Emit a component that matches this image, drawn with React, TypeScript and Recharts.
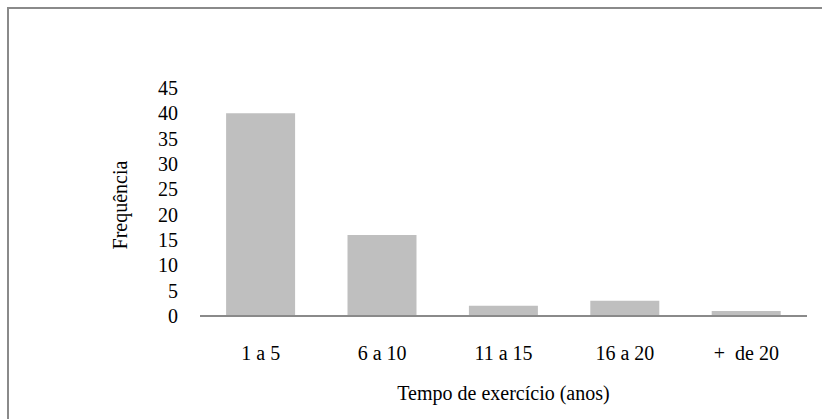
import React from 'react';
import { BarChart, Bar, XAxis, YAxis } from 'recharts';

const categories = ['1 a 5', '6 a 10', '11 a 15', '16 a 20', '+\u00a0 de 20'];
const frequencies = [40, 16, 2, 3, 1];
const yTicks = [0, 5, 10, 15, 20, 25, 30, 35, 40, 45];

const data = categories.map((c, i) => ({ name: c, value: frequencies[i] }));

const FONT = '"Liberation Serif", "Times New Roman", serif';

export default function App() {
  return (
    <div style={{ position: 'absolute', left: 0, top: 0, width: 822, height: 419, overflow: 'hidden', background: '#fff' }}>
      <div style={{ position: 'absolute', left: 7, top: 7, width: 840, height: 440, border: '2px solid #8a8a8a', boxSizing: 'border-box' }} />
      <div style={{ position: 'absolute', left: 0, top: 0 }}>
        <BarChart width={822} height={419} data={data} margin={{ top: 88, right: 15, bottom: 0, left: 120 }} barCategoryGap="21.5%">
          <XAxis
            dataKey="name"
            axisLine={{ stroke: '#8a8a8a', strokeWidth: 2 }}
            tickLine={false}
            tickSize={0}
            tickMargin={30}
            height={103}
            interval={0}
            tick={{ fill: '#000', fontSize: 20, fontFamily: FONT }}
            label={{
              content: (props: any) => {
                const vb = props.viewBox;
                return (
                  <text x={vb.x + vb.width / 2} y={400} textAnchor="middle" fill="#000" fontSize={20} fontFamily={FONT}>
                    Tempo de exercício (anos)
                  </text>
                );
              },
            }}
          />
          <YAxis
            domain={[0, 45]}
            ticks={yTicks}
            axisLine={false}
            tickLine={false}
            tickSize={0}
            tickMargin={22}
            width={80}
            interval={0}
            tick={{ fill: '#000', fontSize: 20, fontFamily: FONT }}
            label={{
              content: (props: any) => {
                const vb = props.viewBox;
                const cx = vb.x;
                const cy = vb.y + vb.height / 2 + 3;
                return (
                  <text x={cx} y={cy} transform={`rotate(-90 ${cx} ${cy})`} textAnchor="middle" dominantBaseline="central" fill="#000" fontSize={20} fontFamily={FONT}>
                    Frequência
                  </text>
                );
              },
            }}
          />
          <Bar dataKey="value" fill="#bfbfbf" isAnimationActive={false} />
        </BarChart>
      </div>
    </div>
  );
}
